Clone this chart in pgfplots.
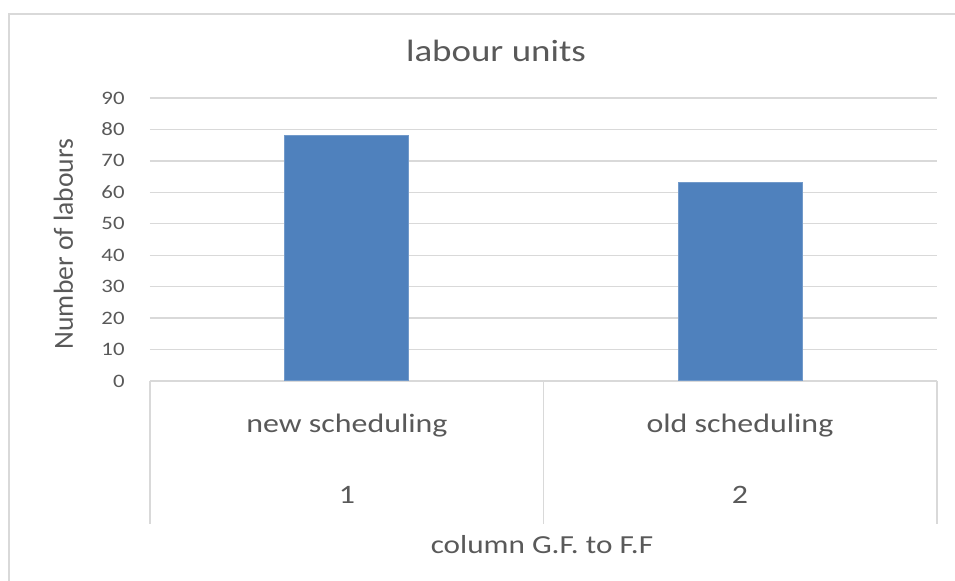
\documentclass[border=0pt]{standalone}
\usepackage{pgfplots}
\pgfplotsset{compat=1.18}
\usepackage{fontspec}
\setmainfont{Carlito}[FakeStretch=1.2]
\newfontfamily\ylabfont{Carlito}
\definecolor{txt}{HTML}{595959}
\definecolor{gridc}{HTML}{D9D9D9}
\definecolor{barc}{HTML}{4F81BD}
\begin{document}
\begin{tikzpicture}
\useasboundingbox (-75pt,-100pt) rectangle (402.5pt,190.5pt);
\draw[gridc, line width=1pt] (-70.5pt,-100pt) -- (-70.5pt,183.5pt) -- (402.5pt,183.5pt);
\begin{axis}[at={(0,0)}, anchor=south west, scale only axis,
  width=393.5pt, height=141.5pt,
  xmin=0.5, xmax=2.5, ymin=0, ymax=90,
  ytick={0,10,...,90}, xtick=\empty,
  axis line style={draw=none}, major tick length=0pt,
  ymajorgrids, grid style={gridc, line width=0.7pt},
  yticklabel style={font=\fontsize{9.5}{10}\selectfont, text=txt, inner sep=0pt, anchor=east, xshift=-12.5pt},
  /pgf/number format/assume math mode=true,
  clip=false, ybar, bar width=62pt]
\addplot[fill=barc, draw=barc!80!white, line width=0.5pt] coordinates {(1,78) (2,63)};
\draw[gridc, line width=0.7pt] (axis cs:0.5,0) -- ([yshift=-71.5pt]axis cs:0.5,0);
\draw[gridc, line width=0.7pt] (axis cs:1.5,0) -- ([yshift=-71.5pt]axis cs:1.5,0);
\draw[gridc, line width=0.7pt] (axis cs:2.5,0) -- ([yshift=-71.5pt]axis cs:2.5,0);
\end{axis}
\node[anchor=base, text=txt, font=\fontsize{15.4}{18}\selectfont, inner sep=0pt] at (173pt,159.5pt) {labour units};
\node[rotate=90, text=txt, font=\ylabfont\fontsize{13.8}{16}\selectfont, inner sep=0pt] at (-43.25pt,68.5pt) {Number of labours};
\node[anchor=base, text=txt, font=\fontsize{13.3}{16}\selectfont, inner sep=0pt] at (98.5pt,-26pt) {new scheduling};
\node[anchor=base, text=txt, font=\fontsize{13.3}{16}\selectfont, inner sep=0pt] at (295pt,-26pt) {old scheduling};
\node[anchor=base, text=txt, font=\fontsize{13.3}{16}\selectfont, inner sep=0pt] at (98.5pt,-61.5pt) {1};
\node[anchor=base, text=txt, font=\fontsize{13.3}{16}\selectfont, inner sep=0pt] at (295pt,-61.5pt) {2};
\node[anchor=base, text=txt, font=\fontsize{13}{16}\selectfont, inner sep=0pt] at (196pt,-86.5pt) {column G.F. to F.F};
\end{tikzpicture}
\end{document}
